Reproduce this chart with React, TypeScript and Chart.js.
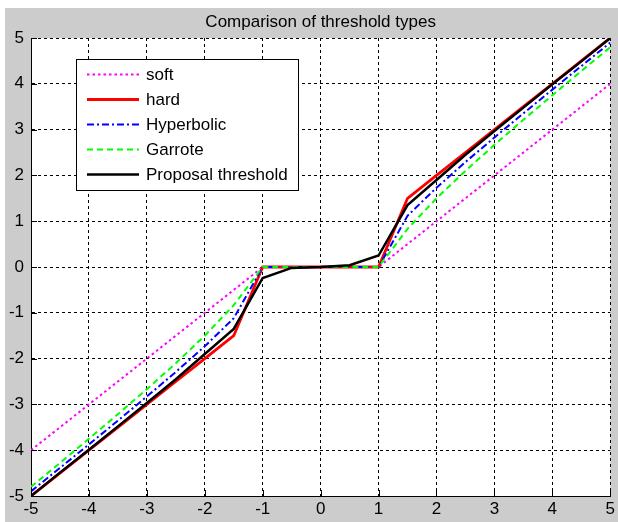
import React, { useEffect, useRef } from "react";
import { Chart, registerables } from "chart.js";

Chart.register(...registerables);

const xValues = [-5, -4.5, -4, -3.5, -3, -2.5, -2, -1.5, -1, -0.5, 0, 0.5, 1, 1.5, 2, 2.5, 3, 3.5, 4, 4.5, 5];
const softValues = [-4, -3.5, -3, -2.5, -2, -1.5, -1, -0.5, 0, 0, 0, 0, 0, 0.5, 1, 1.5, 2, 2.5, 3, 3.5, 4];
const hardValues = [-5, -4.5, -4, -3.5, -3, -2.5, -2, -1.5, 0, 0, 0, 0, 0, 1.5, 2, 2.5, 3, 3.5, 4, 4.5, 5];
const hyperbolicValues = [-4.899, -4.387, -3.873, -3.354, -2.828, -2.291, -1.732, -1.118, 0, 0, 0, 0, 0, 1.118, 1.732, 2.291, 2.828, 3.354, 3.873, 4.387, 4.899];
const garroteValues = [-4.8, -4.278, -3.75, -3.214, -2.667, -2.1, -1.5, -0.833, 0, 0, 0, 0, 0, 0.833, 1.5, 2.1, 2.667, 3.214, 3.75, 4.278, 4.8];
const proposalValues = [-5, -4.49, -3.99, -3.48, -2.97, -2.45, -1.9, -1.35, -0.24, -0.02, 0, 0.04, 0.25, 1.35, 1.9, 2.45, 2.97, 3.48, 3.99, 4.49, 5];
const seriesLabels = ["soft", "hard", "Hyperbolic", "Garrote", "Proposal threshold"];
const titleText = "Comparison of threshold types";
const axisMin = -5;
const axisMax = 5;

const FONT = "'Liberation Sans', Arial, sans-serif";

const toPoints = (ys: number[]) => xValues.map((x, i) => ({ x, y: ys[i] }));

const backgroundPlugin = {
  id: "bgPanel",
  beforeDraw(chart: any) {
    const { ctx, width, height, chartArea } = chart;
    ctx.save();
    ctx.fillStyle = "#ffffff";
    ctx.fillRect(0, 0, width, height);
    ctx.fillStyle = "#cccccc";
    ctx.fillRect(5, 8, width - 5, height - 8);
    ctx.fillStyle = "#ffffff";
    ctx.fillRect(chartArea.left, chartArea.top, chartArea.right - chartArea.left, chartArea.bottom - chartArea.top);
    ctx.restore();
  },
};

const plotTitlePlugin = {
  id: "plotTitle",
  afterDraw(chart: any) {
    const { ctx, chartArea } = chart;
    ctx.save();
    ctx.fillStyle = "#000";
    ctx.font = `17px ${FONT}`;
    ctx.textAlign = "center";
    ctx.textBaseline = "alphabetic";
    ctx.fillText(titleText, (chartArea.left + chartArea.right) / 2, chartArea.top - 11);
    ctx.restore();
  },
};

const innerTicksPlugin = {
  id: "innerTicks",
  afterDatasetsDraw(chart: any) {
    const { ctx, chartArea, scales } = chart;
    ctx.save();
    ctx.strokeStyle = "#000";
    ctx.lineWidth = 1;
    ctx.setLineDash([]);
    ctx.beginPath();
    scales.x.ticks.forEach((t: any) => {
      const px = Math.round(scales.x.getPixelForValue(t.value)) + 0.5;
      ctx.moveTo(px, chartArea.bottom);
      ctx.lineTo(px, chartArea.bottom - 6);
    });
    scales.y.ticks.forEach((t: any) => {
      const py = Math.round(scales.y.getPixelForValue(t.value)) + 0.5;
      ctx.moveTo(chartArea.left, py);
      ctx.lineTo(chartArea.left + 6, py);
    });
    ctx.stroke();
    ctx.restore();
  },
};

const boxLegendPlugin = {
  id: "boxLegend",
  afterDatasetsDraw(chart: any) {
    const { ctx, chartArea } = chart;
    const left = chartArea.left + 45;
    const top = chartArea.top + 21;
    const w = 222;
    const h = 131;
    ctx.save();
    ctx.fillStyle = "#ffffff";
    ctx.fillRect(left, top, w, h);
    ctx.strokeStyle = "#000";
    ctx.lineWidth = 1;
    ctx.setLineDash([]);
    ctx.strokeRect(left + 0.5, top + 0.5, w, h);
    chart.data.datasets.forEach((ds: any, i: number) => {
      const y = top + 15.5 + i * 25;
      ctx.setLineDash(ds.borderDash || []);
      ctx.strokeStyle = ds.borderColor;
      ctx.lineWidth = ds.borderWidth;
      ctx.beginPath();
      ctx.moveTo(left + 11, y);
      ctx.lineTo(left + 63, y);
      ctx.stroke();
      ctx.setLineDash([]);
      ctx.fillStyle = "#000";
      ctx.font = `17px ${FONT}`;
      ctx.textBaseline = "middle";
      ctx.textAlign = "left";
      ctx.fillText(ds.label, left + 70, y + 1);
    });
    ctx.restore();
  },
};

export default function App() {
  const canvasRef = useRef<HTMLCanvasElement | null>(null);

  useEffect(() => {
    if (!canvasRef.current) return;
    const axisCommon = {
      type: "linear",
      min: axisMin,
      max: axisMax,
      grid: { color: "#000", lineWidth: 1, drawTicks: false },
      border: { display: true, color: "#000", width: 1, dash: [3, 3] },
      ticks: {
        stepSize: 1,
        autoSkip: false,
        maxRotation: 0,
        color: "#000",
        font: { size: 17, family: FONT },
      },
    };
    const chart = new Chart(canvasRef.current, {
      type: "line",
      data: {
        datasets: [
          {
            label: seriesLabels[0],
            data: toPoints(softValues),
            borderColor: "#ff00ff",
            borderWidth: 2,
            borderDash: [2.5, 3],
            order: 5,
          },
          {
            label: seriesLabels[1],
            data: toPoints(hardValues),
            borderColor: "#ff0000",
            borderWidth: 2.8,
            borderDash: [],
            order: 4,
          },
          {
            label: seriesLabels[2],
            data: toPoints(hyperbolicValues),
            borderColor: "#0000ff",
            borderWidth: 2,
            borderDash: [7, 3, 2, 3],
            order: 3,
          },
          {
            label: seriesLabels[3],
            data: toPoints(garroteValues),
            borderColor: "#00ff00",
            borderWidth: 2,
            borderDash: [6, 4],
            order: 2,
          },
          {
            label: seriesLabels[4],
            data: toPoints(proposalValues),
            borderColor: "#000000",
            borderWidth: 2.5,
            borderDash: [],
            order: 1,
          },
        ],
      },
      options: {
        responsive: false,
        animation: false,
        devicePixelRatio: 1,
        layout: { padding: { left: 0, right: 5, top: 38, bottom: 0 } },
        elements: { point: { radius: 0 }, line: { tension: 0, fill: false } },
        plugins: {
          legend: { display: false },
          tooltip: { enabled: false },
          title: { display: false },
        },
        scales: {
          x: {
            ...axisCommon,
            position: "bottom",
            ticks: { ...axisCommon.ticks, padding: 3 },
            afterFit: (scale: any) => {
              scale.height = 26;
            },
          },
          y: {
            ...axisCommon,
            position: "left",
            ticks: { ...axisCommon.ticks, padding: 7 },
            afterFit: (scale: any) => {
              scale.width = 31;
            },
          },
        },
      } as any,
      plugins: [backgroundPlugin, innerTicksPlugin, boxLegendPlugin, plotTitlePlugin],
    } as any);
    return () => chart.destroy();
  }, []);

  return (
    <div style={{ position: "absolute", left: 0, top: 0, width: 618, height: 522 }}>
      <canvas ref={canvasRef} width={618} height={522} />
    </div>
  );
}
